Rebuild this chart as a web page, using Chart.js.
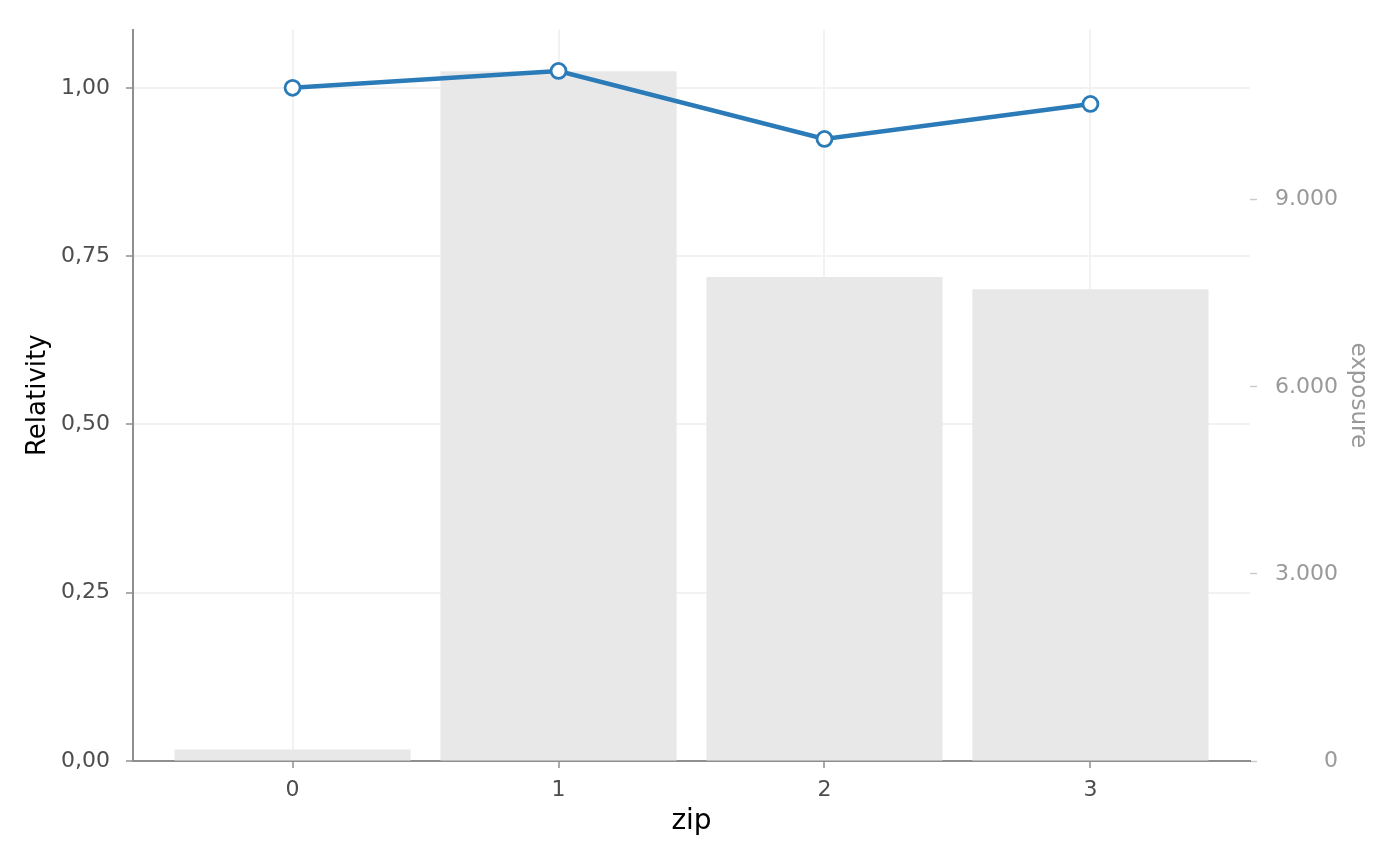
<!DOCTYPE html>
<html>
<head>
<meta charset="utf-8">
<script src="https://cdn.jsdelivr.net/npm/chart.js@4/dist/chart.umd.min.js"></script>
<style>
  html, body { margin: 0; padding: 0; background: #fff; }
  #wrap { width: 1400px; height: 866px; position: relative; }
</style>
</head>
<body>
<div id="wrap"><canvas id="chart"></canvas></div>
<script>
// values
const zipCodes = [0, 1, 2, 3];
const zipLabels = ['0', '1', '2', '3'];
const relativity = [1.000, 1.025, 0.924, 0.976];
const exposure = [183, 11059, 7760, 7566];

const relTicks = [0, 0.25, 0.5, 0.75, 1.0];
const relTickLabels = ['0,00', '0,25', '0,50', '0,75', '1,00'];
const expTicks = [0, 3000, 6000, 9000];
const expTickLabels = ['0', '3.000', '6.000', '9.000'];

const FONT = 'DejaVu Sans';
const AXIS_GREY = '#8f8f8f';
const GRID = '#f2f2f2';

new Chart(document.getElementById('chart'), {
    data: {
        datasets: [
            {
                type: 'line',
                yAxisID: 'y',
                order: 0,
                data: relativity.map((v, i) => ({ x: zipCodes[i], y: v })),
                borderColor: '#2b7bb9',
                borderWidth: 4.5,
                pointRadius: 7.5,
                pointBorderWidth: 2.8,
                pointBackgroundColor: '#ffffff',
                pointBorderColor: '#2b7bb9',
                tension: 0
            },
            {
                type: 'bar',
                yAxisID: 'y1',
                order: 1,
                data: exposure.map((v, i) => ({ x: zipCodes[i], y: v })),
                backgroundColor: '#e8e8e8',
                borderWidth: 0,
                categoryPercentage: 1,
                barPercentage: 0.888
            }
        ]
    },
    options: {
        responsive: true,
        maintainAspectRatio: false,
        animation: false,
        layout: { padding: { top: 29.5, left: 0, right: 62, bottom: 0 } },
        plugins: { legend: { display: false }, tooltip: { enabled: false } },
        scales: {
            x: {
                type: 'linear',
                min: -0.6,
                max: 3.6,
                offset: false,
                afterBuildTicks: s => { s.ticks = zipCodes.map(v => ({ value: v })); },
                afterFit: s => { s.height = 105; },
                ticks: {
                    callback: (v, i) => zipLabels[i],
                    font: { family: FONT, size: 22 },
                    color: '#4d4d4d',
                    padding: 9,
                    maxRotation: 0,
                    autoSkip: false
                },
                grid: { offset: false, color: GRID, lineWidth: 2, tickColor: AXIS_GREY, tickLength: 7, tickWidth: 1.5 },
                border: { color: AXIS_GREY, width: 2 },
                title: {
                    display: true, text: 'zip', color: '#000',
                    font: { family: FONT, size: 28 },
                    padding: { top: 0, bottom: 27 }
                }
            },
            y: {
                position: 'left',
                min: 0,
                max: 1.0866,
                afterBuildTicks: s => { s.ticks = relTicks.map(v => ({ value: v })); },
                afterFit: s => { s.width = 133; },
                ticks: {
                    callback: (v, i) => relTickLabels[i],
                    font: { family: FONT, size: 22 },
                    color: '#4d4d4d',
                    padding: 16
                },
                grid: { color: GRID, lineWidth: 2, tickColor: AXIS_GREY, tickLength: 7, tickWidth: 1.5 },
                border: { color: AXIS_GREY, width: 2 },
                title: {
                    display: true, text: 'Relativity', color: '#000',
                    font: { family: FONT, size: 26 },
                    padding: { top: 23, bottom: 0 }
                }
            },
            y1: {
                position: 'right',
                min: 0,
                max: 11729,
                afterBuildTicks: s => { s.ticks = expTicks.map(v => ({ value: v })); },
                afterFit: s => { s.width = 88; },
                ticks: {
                    // 'far' puts labels flush with the scale's right edge
                    callback: (v, i) => expTickLabels[i],
                    font: { family: FONT, size: 22 },
                    color: '#999999',
                    padding: 0,
                    crossAlign: 'far'
                },
                grid: { drawOnChartArea: false, tickColor: '#cccccc', tickLength: 7, tickWidth: 1.5 },
                border: { display: false },
                title: {
                    display: true, text: 'exposure', color: '#999999',
                    font: { family: FONT, size: 23 },
                    padding: { top: -33.8, bottom: 0 }
                }
            }
        }
    }
});
</script>
</body>
</html>
